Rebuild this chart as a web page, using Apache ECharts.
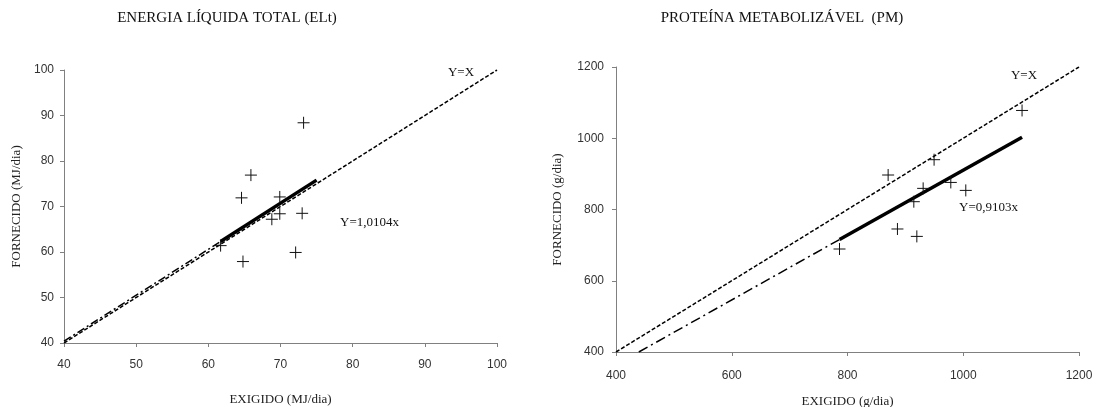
<!DOCTYPE html>
<html>
<head>
<meta charset="utf-8">
<script src="https://cdn.jsdelivr.net/npm/echarts@6/dist/echarts.min.js"></script>
<style>
html,body{margin:0;padding:0;background:#fff;}
#c{width:1098px;height:407px;}
</style>
</head>
<body>
<div id="c"></div>
<script>
// ---- Data ----
const elExigido   = [73.2, 65.9, 64.6, 69.9, 69.9, 73.0, 68.8, 61.7, 72.1, 64.8];
const elFornecido = [88.4, 76.9, 71.9, 72.1, 68.4, 68.5, 67.2, 61.4, 59.9, 57.9];
const elIdentity  = [[40, 40], [100, 100]];
const elRegSolid  = [[61.7, 62.3], [75.0, 75.8]];
const elRegExt    = [[40, 40.4], [61.7, 62.3]];
const elTicks     = [40, 50, 60, 70, 80, 90, 100];

const pmExigido   = [1101.6, 949.6, 870.2, 930.7, 978.5, 1004.4, 914.6, 886.3, 919.8, 786.2];
const pmFornecido = [1078, 939.8, 896.8, 859.3, 876, 853.6, 821.9, 745.3, 724.5, 689.1];
const pmIdentity  = [[400, 400], [1200, 1200]];
const pmRegSolid  = [[786.2, 715.7], [1101.6, 1002.8]];
const pmRegExt    = [[439.4, 400], [786.2, 715.7]];
const pmTicks     = [400, 600, 800, 1000, 1200];

const titles = ['ENERGIA LÍQUIDA TOTAL (ELt)', 'PROTEÍNA METABOLIZÁVEL  (PM)'];
const xNames = ['EXIGIDO (MJ/dia)', 'EXIGIDO (g/dia)'];
const yNames = ['FORNECIDO (MJ/dia)', 'FORNECIDO (g/dia)'];
const eqLabels = ['Y=X', 'Y=1,0104x', 'Y=X', 'Y=0,9103x'];

const zip = (a, b) => a.map((v, i) => [v, b[i]]);

const SERIF = '"Liberation Serif","Times New Roman",serif';
const SANS = '"Liberation Sans",Arial,sans-serif';
const crossPath = 'path://M0,5L10,5M5,0L5,10';

function axisCommon(min, max, interval, name, nameGap, margin, isY) {
  return {
    type: 'value', min: min, max: max, interval: interval,
    name: name, nameLocation: 'middle', nameGap: nameGap,
    nameTextStyle: { fontFamily: SERIF, fontSize: 13, color: '#222' },
    axisLine: { show: true, onZero: false, lineStyle: { color: '#808080', width: 1 } },
    axisTick: { show: true, inside: false, length: 4, lineStyle: { color: '#808080' } },
    splitLine: { show: false },
    axisLabel: { fontFamily: SANS, fontSize: 12, color: '#333', margin: margin,
                 formatter: function (v) { return String(v); } },
    nameRotate: isY ? 90 : 0
  };
}

const chart = echarts.init(document.getElementById('c'), null, { renderer: 'canvas' });

const lineS = (data, xi, type, width) => ({
  type: 'line', xAxisIndex: xi, yAxisIndex: xi, data: data, symbol: 'none',
  silent: true, clip: true, z: 2,
  lineStyle: { color: '#000', width: width, type: type }
});
const scatterS = (data, xi) => ({
  type: 'scatter', xAxisIndex: xi, yAxisIndex: xi, data: data,
  symbol: crossPath, symbolSize: 12, z: 3,
  itemStyle: { color: 'transparent', borderColor: '#111', borderWidth: 1, opacity: 1 }
});

chart.setOption({
  animation: false,
  backgroundColor: '#fff',
  grid: [
    { left: 64, top: 70, width: 433, height: 273, containLabel: false, outerBoundsMode: 'none' },
    { left: 616, top: 67, width: 463, height: 285, containLabel: false, outerBoundsMode: 'none' }
  ],
  xAxis: [
    axisCommon(elTicks[0], elTicks[elTicks.length - 1], 10, xNames[0], 50, 16, false),
    Object.assign(axisCommon(pmTicks[0], pmTicks[pmTicks.length - 1], 200, xNames[1], 43, 18, false), { gridIndex: 1 })
  ],
  yAxis: [
    axisCommon(elTicks[0], elTicks[elTicks.length - 1], 10, yNames[0], 41, 10, true),
    Object.assign(axisCommon(pmTicks[0], pmTicks[pmTicks.length - 1], 200, yNames[1], 52, 12, true), { gridIndex: 1 })
  ],
  series: [
    lineS(elIdentity, 0, [4, 2], 1.5),
    lineS(elRegExt, 0, [8, 3, 2, 3], 1.5),
    lineS(elRegSolid, 0, 'solid', 3.5),
    scatterS(zip(elExigido, elFornecido), 0),
    lineS(pmIdentity, 1, [4, 2], 1.5),
    lineS(pmRegExt, 1, [10, 4, 2, 4], 1.5),
    lineS(pmRegSolid, 1, 'solid', 3.5),
    scatterS(zip(pmExigido, pmFornecido), 1)
  ],
  graphic: [
    { type: 'text', x: 227, y: 18, style: { text: titles[0], font: '15px ' + SERIF, fill: '#111', align: 'center', verticalAlign: 'middle' } },
    { type: 'text', x: 782, y: 18, style: { text: titles[1], font: '15px ' + SERIF, fill: '#111', align: 'center', verticalAlign: 'middle' } },
    { type: 'text', x: 461, y: 73, style: { text: eqLabels[0], font: '13px ' + SERIF, fill: '#111', align: 'center', verticalAlign: 'middle' } },
    { type: 'text', x: 340, y: 223, style: { text: eqLabels[1], font: '13px ' + SERIF, fill: '#111', align: 'left', verticalAlign: 'middle' } },
    { type: 'text', x: 1024, y: 76, style: { text: eqLabels[2], font: '13px ' + SERIF, fill: '#111', align: 'center', verticalAlign: 'middle' } },
    { type: 'text', x: 959, y: 208, style: { text: eqLabels[3], font: '13px ' + SERIF, fill: '#111', align: 'left', verticalAlign: 'middle' } }
  ]
});
</script>
</body>
</html>
